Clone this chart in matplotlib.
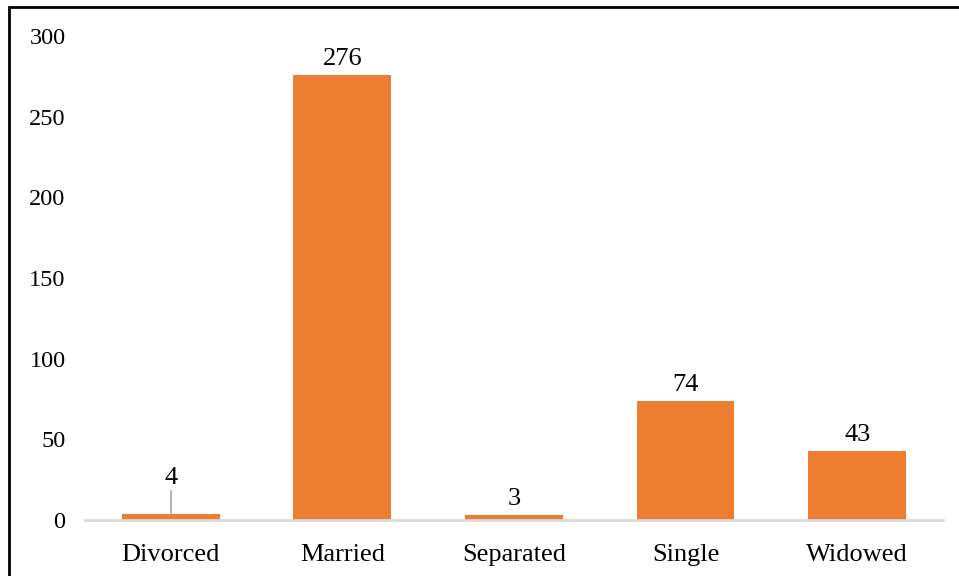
import matplotlib
matplotlib.use("Agg")
import matplotlib.pyplot as plt
from matplotlib.patches import Rectangle

# data
categories = ['Divorced', 'Married', 'Separated', 'Single', 'Widowed']
counts = [4, 276, 3, 74, 43]
yticks = [0, 50, 100, 150, 200, 250, 300]

bar_color = '#ED7D31'

plt.rcParams['font.family'] = ['Liberation Serif', 'DejaVu Serif']

fig = plt.figure(figsize=(9.59, 5.76), dpi=100)
ax = fig.add_axes([0.0886, 0.0972, 0.8947, 0.8403])

x = list(range(len(categories)))
bars = ax.bar(x, counts, width=0.57, color=bar_color, zorder=2)

ax.set_xlim(-0.5, len(categories) - 0.5)
ax.set_ylim(0, 300)
ax.set_yticks(yticks)
ax.set_xticks(x)
ax.set_xticklabels(categories, fontsize=19)
ax.tick_params(axis='y', labelsize=17.5, length=0, pad=14)
ax.tick_params(axis='x', length=0, pad=17)

for s in ['top', 'right', 'left']:
    ax.spines[s].set_visible(False)
ax.spines['bottom'].set_color('#d9d9d9')
ax.spines['bottom'].set_linewidth(2)
ax.spines['bottom'].set_zorder(3)

# value labels
for i, v in enumerate(counts):
    if categories[i] == 'Divorced':
        # label pushed up with a leader line
        ax.plot([i, i], [v + 0.5, v + 14], color='#a6a6a6', lw=1.2, zorder=1)
        ax.text(i, v + 15, str(v), ha='center', va='bottom', fontsize=19)
    else:
        ax.text(i, v + 3, str(v), ha='center', va='bottom', fontsize=19)

# outer frame (cut off by the image edge)
fig.patches.append(Rectangle((9 / 959, -0.1), 1.2, 0.1 + (576 - 7) / 576,
                             transform=fig.transFigure, fill=False,
                             edgecolor='black', lw=2, clip_on=False))

fig.savefig('out.png', dpi=100)
